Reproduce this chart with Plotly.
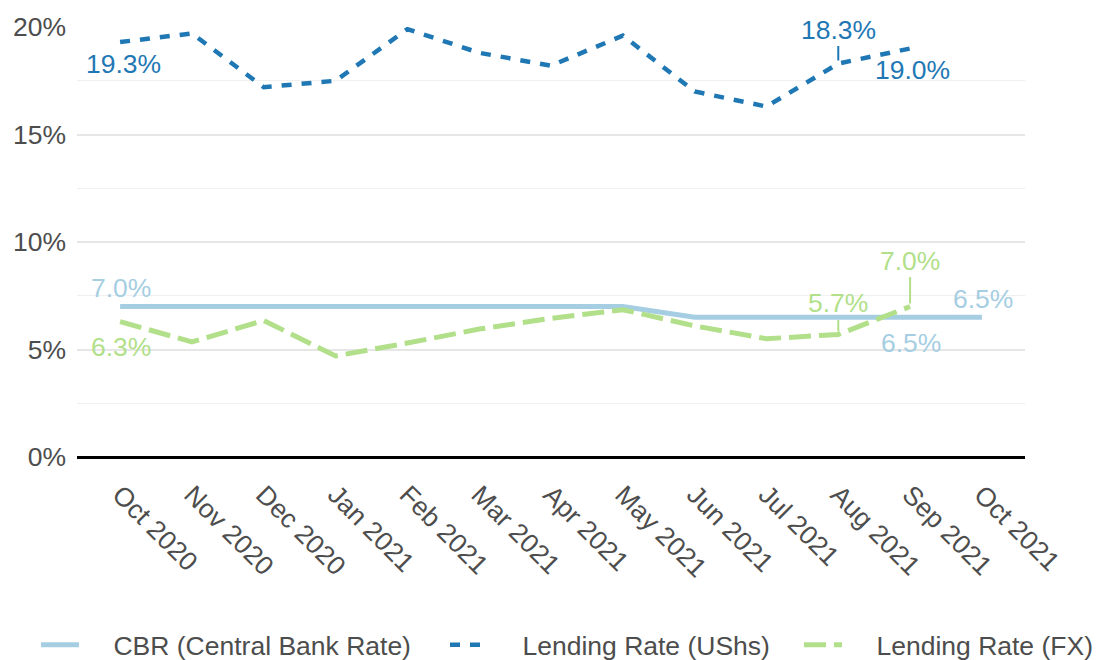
import plotly.graph_objects as go

months = ["Oct 2020", "Nov 2020", "Dec 2020", "Jan 2021", "Feb 2021", "Mar 2021",
          "Apr 2021", "May 2021", "Jun 2021", "Jul 2021", "Aug 2021", "Sep 2021", "Oct 2021"]
cbr = [7.0, 7.0, 7.0, 7.0, 7.0, 7.0, 7.0, 7.0, 6.5, 6.5, 6.5, 6.5, 6.5]
lending_ushs = [19.3, 19.7, 17.2, 17.5, 19.9, 18.8, 18.2, 19.6, 17.0, 16.3, 18.3, 19.0]
lending_fx = [6.3, 5.35, 6.35, 4.7, 5.3, 5.95, 6.45, 6.85, 6.1, 5.5, 5.7, 7.0]
y_ticks = [0, 5, 10, 15, 20]

C_CBR = "#a6cee3"
C_USHS = "#1f78b4"
C_FX = "#b2df8a"
FONT = "Liberation Sans, Arial, sans-serif"
FS = 26.5
TXT = "#4d4d4d"
PAD = "\u00a0" * 4

fig = go.Figure()
fig.add_trace(go.Scatter(x=months, y=cbr, mode="lines", name=PAD + "CBR (Central Bank Rate)",
                         line=dict(color=C_CBR, width=5), cliponaxis=False, legend="legend"))
fig.add_trace(go.Scatter(x=months[:len(lending_ushs)], y=lending_ushs, mode="lines",
                         name=PAD + "Lending Rate (UShs)",
                         line=dict(color=C_USHS, width=4.5, dash="10px,10px"), cliponaxis=False,
                         legend="legend2"))
fig.add_trace(go.Scatter(x=months[:len(lending_fx)], y=lending_fx, mode="lines",
                         name=PAD + "Lending Rate (FX)",
                         line=dict(color=C_FX, width=5, dash="22px,8px"), cliponaxis=False,
                         legend="legend3"))

def lab(i, val, color, xs=0, ys=0):
    fig.add_annotation(x=months[i], y=val, text=f"{val:.1f}%", showarrow=False,
                       xshift=xs, yshift=ys, font=dict(color=color, size=FS, family=FONT))

def lab_arrow(i, val, color, ay):
    fig.add_annotation(x=months[i], y=val, text=f"{val:.1f}%", showarrow=True,
                       arrowhead=0, arrowwidth=2, arrowcolor=color, ax=0, ay=ay, standoff=3,
                       font=dict(color=color, size=FS, family=FONT))

lab(0, lending_ushs[0], C_USHS, 3, -22)
lab_arrow(10, lending_ushs[10], C_USHS, -34)
lab(11, lending_ushs[11], C_USHS, 2, -21)
lab(0, cbr[0], C_CBR, 1, 19)
lab(0, lending_fx[0], C_FX, 1, -25)
lab_arrow(10, lending_fx[10], C_FX, -31)
lab_arrow(11, lending_fx[11], C_FX, -46)
lab(12, cbr[12], C_CBR, 1, 18)
lab(11, cbr[11], C_CBR, 1, -26)

def leg(x):
    return dict(orientation="h", xref="container", x=x, xanchor="left",
                yref="container", y=0.035, yanchor="middle",
                font=dict(size=FS, color=TXT, family=FONT), itemwidth=38,
                bgcolor="rgba(0,0,0,0)")

fig.update_layout(
    width=1102, height=660,
    margin=dict(l=69, r=85, t=19, b=211, autoexpand=False),
    paper_bgcolor="white", plot_bgcolor="white",
    font=dict(family=FONT, size=FS, color=TXT),
    showlegend=True,
    legend=leg(28 / 1102), legend2=leg(437 / 1102), legend3=leg(791 / 1102),
    xaxis=dict(type="category", range=[-0.6, 12.6], tickangle=45, showgrid=False,
               ticks="", tickfont=dict(size=FS, color=TXT), showline=False, zeroline=False,
               ticklabelstandoff=16, automargin=False),
    yaxis=dict(range=[0, 20], tickvals=y_ticks, ticktext=[f"{v}%" for v in y_ticks],
               showgrid=True, gridcolor="#e6e6e6", gridwidth=1.5,
               minor=dict(dtick=2.5, tick0=0, showgrid=True, gridcolor="#f0f0f0", gridwidth=1),
               zeroline=True, zerolinecolor="black", zerolinewidth=2.5,
               tickfont=dict(size=FS, color=TXT), ticks="", ticklabelstandoff=10,
               automargin=False),
)

fig.write_html("out.html")
